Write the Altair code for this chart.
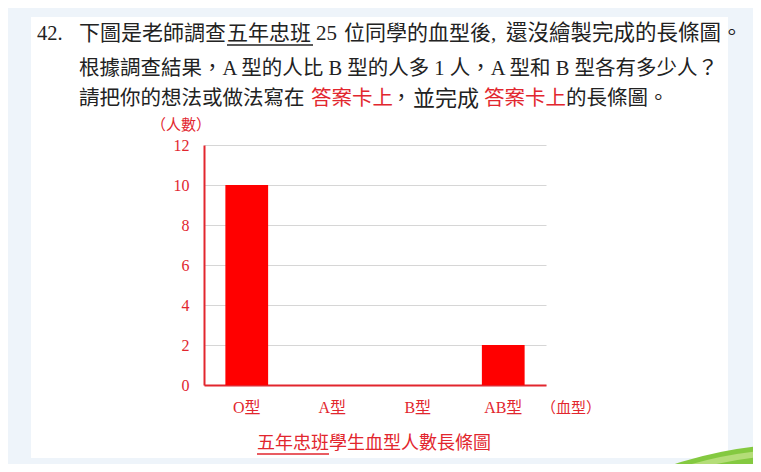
import altair as alt
import pandas as pd

# ---- data ----
categories = ["O型", "A型", "B型", "AB型"]
counts = [10, None, None, 2]          # A and B are not drawn yet
y_ticks = [0, 2, 4, 6, 8, 10, 12]

line1 = ["42.", "下圖是老師調查", "五年忠班", "25", "位同學的血型後,", "還沒繪製完成的長條圖。"]
line2 = "根據調查結果，A 型的人比 B 型的人多 1 人，A 型和 B 型各有多少人？"
line3 = ["請把你的想法或做法寫在", "答案卡上", "，", "並完成", "答案卡上", "的長條圖。"]
y_title = "（人數）"
x_title = "（血型）"
chart_title = "五年忠班學生血型人數長條圖"

# ---- style ----
FONT = "Liberation Serif, Noto Sans CJK TC"
RED = "#e2262e"
BLACK = "#222222"
BLUE = "#eef4fa"
OX, OY = 204, 145  # page position of the plot origin


def px(x):
    return x - OX


def py(y):
    return y - OY


def one():
    return alt.Data(values=[{}])


def text(s, x, y, size, color=BLACK, align="left"):
    return alt.Chart(one()).mark_text(
        text=s, align=align, baseline="middle", fontSize=size, color=color, font=FONT
    ).encode(x=alt.value(px(x)), y=alt.value(py(y)))


def rect(x1, x2, y1, y2, color):
    return alt.Chart(one()).mark_rect(color=color).encode(
        x=alt.value(px(x1)), x2=alt.value(px(x2)), y=alt.value(py(y1)), y2=alt.value(py(y2))
    )


def rule(x1, x2, y, color, w=1.5):
    return alt.Chart(one()).mark_rule(color=color, strokeWidth=w).encode(
        x=alt.value(px(x1)), x2=alt.value(px(x2)), y=alt.value(py(y))
    )


layers = [
    rect(0, 31, 0, 480, BLUE),
    rect(0, 780, 0, 17, BLUE),
    rect(728, 780, 0, 480, BLUE),
    rect(0, 780, 458, 480, BLUE),
    alt.Chart(one()).mark_arc(color="#84c940", radius=401, theta=0, theta2=6.2832).encode(
        x=alt.value(px(800)), y=alt.value(py(845))
    ),
    alt.Chart(one()).mark_arc(color="#b4dd78", radius=396, radius2=390, theta=5.9, theta2=6.2832).encode(
        x=alt.value(px(800)), y=alt.value(py(845))
    ),
    # question text
    text(line1[0], 37, 34, 20.5),
    text(line1[1], 79, 34, 21),
    text(line1[2], 227, 34, 21),
    rule(227, 313, 45, BLACK),
    text(line1[3], 316, 34, 21),
    text(line1[4], 344, 34, 21),
    text(line1[5], 506, 34, 21.5),
    text(line2, 79, 69, 20.5),
    text(line3[0], 79, 99, 20.5),
    text(line3[1], 311, 99, 20.5, RED),
    text(line3[2], 391, 99, 20.5),
    text(line3[3], 413, 99, 22),
    text(line3[4], 484, 99, 20.5, RED),
    text(line3[5], 566, 99, 20.5),
    # chart labels
    text(y_title, 181, 125, 15, RED, "center"),
    text(x_title, 541, 408, 15, RED),
    text(chart_title, 257, 444, 18, RED),
    rule(257, 329, 454, RED),
]

df = pd.DataFrame({"type": categories, "count": counts})

bars = alt.Chart(df).mark_bar(color="#ff0000").encode(
    x=alt.X(
        "type:N",
        sort=categories,
        scale=alt.Scale(domain=categories, paddingInner=0.5, paddingOuter=0.25),
        axis=alt.Axis(
            title=None, labelAngle=0, labelColor=RED, labelFont=FONT, labelFontSize=16,
            labelPadding=14, ticks=False, domainColor=RED, domainWidth=2, grid=False,
        ),
    ),
    y=alt.Y(
        "count:Q",
        scale=alt.Scale(domain=[0, 12], nice=False),
        axis=alt.Axis(
            title=None, values=y_ticks, grid=True, gridColor="#d6d6d6", gridWidth=1,
            ticks=False, labelPadding=15, labelColor=RED, labelFont=FONT, labelFontSize=16,
            domainColor=RED, domainWidth=2,
        ),
    ),
)

chart = alt.layer(*layers, bars).properties(
    width=342,
    height=240,
    autosize=alt.AutoSizeParams(type="none"),
    padding={"left": 196, "top": 137, "right": 207, "bottom": 79},
    background="white",
).configure_view(strokeWidth=0)

chart.save("out.html", embed_options={"renderer": "svg", "actions": False})
